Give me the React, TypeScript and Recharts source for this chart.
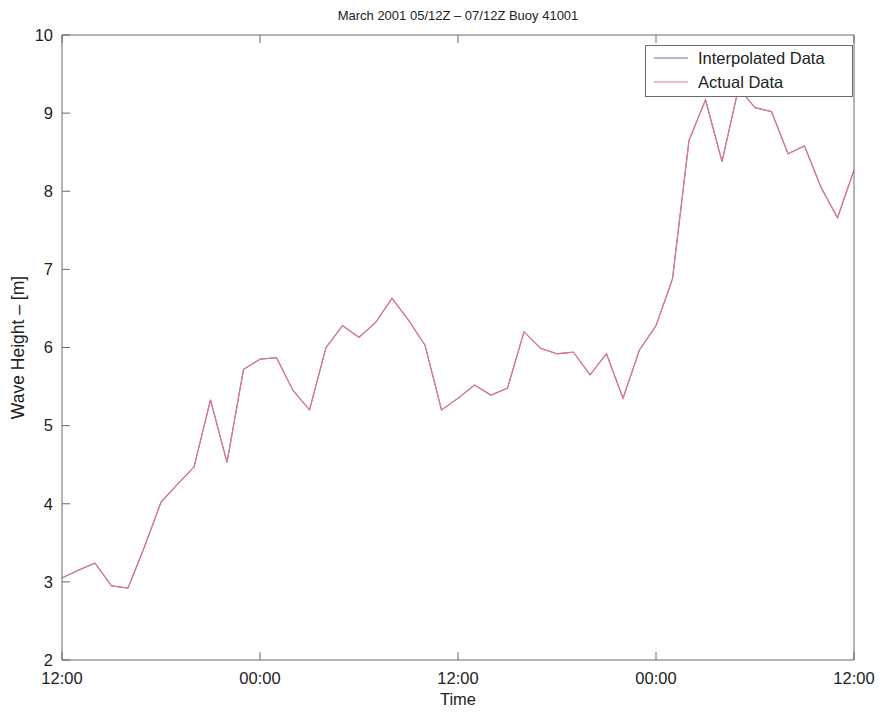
import { LineChart, Line, XAxis, YAxis, Legend, Label } from "recharts";

// hours since 05/12Z, one reading per hour
const hours = [
  0, 1, 2, 3, 4, 5, 6, 7, 8, 9, 10, 11, 12, 13, 14, 15, 16, 17, 18, 19, 20, 21, 22, 23, 24,
  25, 26, 27, 28, 29, 30, 31, 32, 33, 34, 35, 36, 37, 38, 39, 40, 41, 42, 43, 44, 45, 46, 47, 48,
];
const waveHeight = [
  3.05, 3.15, 3.24, 2.95, 2.92, 3.45, 4.02, 4.25, 4.47, 5.33, 4.53, 5.72, 5.85, 5.87, 5.45, 5.2,
  6.0, 6.28, 6.13, 6.32, 6.63, 6.35, 6.03, 5.2, 5.35, 5.52, 5.39, 5.48, 6.2, 5.99, 5.92, 5.94,
  5.65, 5.92, 5.35, 5.97, 6.28, 6.88, 8.65, 9.17, 8.38, 9.32, 9.07, 9.02, 8.48, 8.58, 8.05, 7.66,
  8.27,
];
const xTicks = [0, 12, 24, 36, 48];
const xTickLabels = ["12:00", "00:00", "12:00", "00:00", "12:00"];
const yTicks = [2, 3, 4, 5, 6, 7, 8, 9, 10];
const seriesNames = ["Interpolated Data", "Actual Data"];

const data = hours.map((h, i) => ({ h, interp: waveHeight[i], actual: waveHeight[i] }));

const FONT = "'Liberation Sans', Arial, Helvetica, sans-serif";
const AXIS = "#6b6b6b";
const TXT = "#222";
const BLUE = "#6c6ca8";
const RED = "#dc7a88";
const FS = 16.5;

function fmtX(v: number) {
  const i = xTicks.indexOf(v);
  return i >= 0 ? xTickLabels[i] : "";
}

function LegendBox({ payload }: any) {
  const items = [...(payload || [])].sort(
    (a: any, b: any) => seriesNames.indexOf(a.value) - seriesNames.indexOf(b.value)
  );
  return (
    <div
      style={{
        border: `1px solid ${AXIS}`,
        background: "#fff",
        padding: "0 0 2px 0",
        fontFamily: FONT,
        fontSize: FS,
        color: TXT,
        lineHeight: "24px",
        textAlign: "left",
      }}
    >
      {items.map((p: any) => (
        <div key={p.value} style={{ display: "flex", alignItems: "center" }}>
          <svg width={52} height={10}>
            <line x1={8} x2={42} y1={5} y2={5} stroke={p.color} strokeWidth={1} />
          </svg>
          <span>{p.value}</span>
        </div>
      ))}
    </div>
  );
}

export default function App() {
  return (
    <div style={{ position: "absolute", left: 0, top: 0, width: 883, height: 712, background: "#fff" }}>
      <LineChart
        width={883}
        height={712}
        data={data}
        margin={{ top: 34, right: 28, bottom: 4, left: 20 }}
        style={{ fontFamily: FONT }}
      >
        <XAxis
          dataKey="h"
          type="number"
          domain={[0, 48]}
          ticks={xTicks}
          tickFormatter={fmtX}
          height={48}
          tickSize={-8}
          tickMargin={20}
          stroke={AXIS}
          tick={{ fill: TXT, fontSize: FS }}
          interval={0}
        >
          <Label value="Time" position="insideBottom" offset={3} fill={TXT} fontSize={FS} />
        </XAxis>
        <XAxis
          xAxisId="top"
          orientation="top"
          dataKey="h"
          type="number"
          domain={[0, 48]}
          ticks={xTicks}
          tickFormatter={() => ""}
          height={1}
          tickSize={-8}
          stroke={AXIS}
          interval={0}
        >
          <Label
            content={(props: any) => {
              const vb = props.viewBox || {};
              return (
                <text
                  x={vb.x + vb.width / 2}
                  y={15}
                  textAnchor="middle"
                  dominantBaseline="central"
                  fill={TXT}
                  fontSize={13}
                  fontFamily={FONT}
                >
                  March 2001 05/12Z – 07/12Z Buoy 41001
                </text>
              );
            }}
          />
        </XAxis>
        <YAxis
          type="number"
          domain={[2, 10]}
          ticks={yTicks}
          width={42}
          tickSize={-8}
          tickMargin={17}
          stroke={AXIS}
          tick={{ fill: TXT, fontSize: FS }}
          interval={0}
        >
          <Label
            content={(props: any) => {
              const vb = props.viewBox || {};
              const cx = 18;
              const cy = vb.y + vb.height / 2;
              return (
                <text
                  x={cx}
                  y={cy}
                  transform={`rotate(-90 ${cx} ${cy})`}
                  textAnchor="middle"
                  dominantBaseline="central"
                  fill={TXT}
                  fontSize={17.5}
                  fontFamily={FONT}
                >
                  Wave Height – [m]
                </text>
              );
            }}
          />
        </YAxis>
        <YAxis
          yAxisId="right"
          orientation="right"
          type="number"
          domain={[2, 10]}
          ticks={yTicks}
          width={1}
          tickSize={-8}
          tickFormatter={() => ""}
          stroke={AXIS}
          interval={0}
        />
        <Legend
          layout="horizontal"
          verticalAlign="middle"
          align="center"
          content={<LegendBox />}
          wrapperStyle={{ position: "absolute", top: 45, left: 645, width: 208, right: "auto", bottom: "auto" }}
        />
        <Line
          type="linear"
          dataKey="interp"
          name="Interpolated Data"
          stroke={BLUE}
          strokeWidth={1}
          dot={false}
          activeDot={false}
          isAnimationActive={false}
        />
        <Line
          type="linear"
          dataKey="actual"
          name="Actual Data"
          stroke={RED}
          strokeWidth={1.3}
          dot={false}
          activeDot={false}
          isAnimationActive={false}
        />
      </LineChart>
    </div>
  );
}
